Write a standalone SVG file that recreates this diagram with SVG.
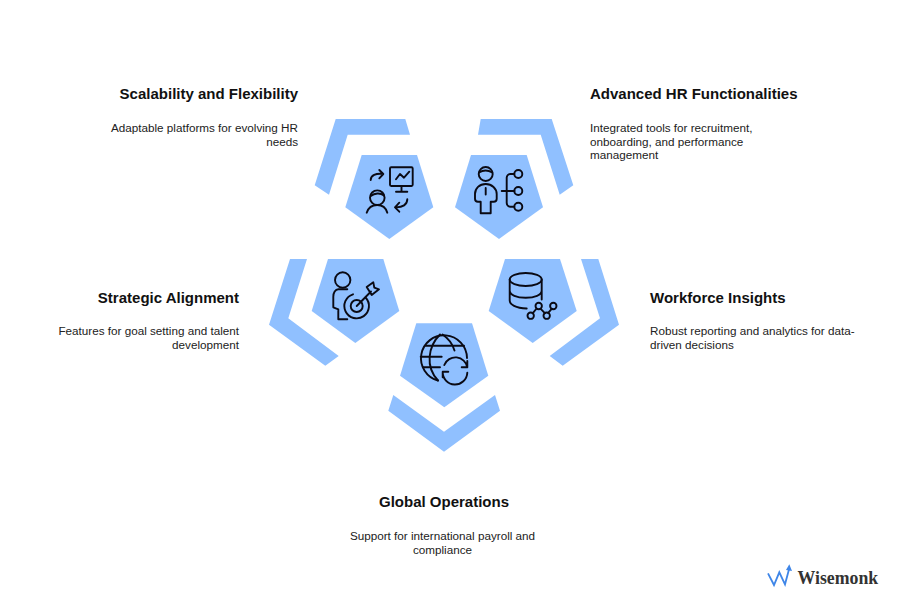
<svg xmlns="http://www.w3.org/2000/svg" width="912" height="608" viewBox="0 0 912 608">
<style>
.s{fill:#90c0ff}
.i{fill:none;stroke:#0a0a14;stroke-width:1.9;stroke-linecap:round;stroke-linejoin:round}
.t{font:bold 15px "Liberation Sans",Arial,sans-serif;fill:#111}
.d{font:11.7px "Liberation Sans",Arial,sans-serif;fill:#222}
.e{text-anchor:end}
.m{text-anchor:middle}
</style>
<rect width="912" height="608" fill="#fff"/>
<g id="node-scalability">
<polygon class="s" points="335.7,119 405.3,119 410,134.7 347.7,134.7 329,194.7 314.7,185.3"/>
<polygon class="s" points="361.7,155 417,155 433.3,207.3 389.3,239 345.3,207.3"/>
<g class="i">
<rect x="390" y="167.3" width="22.7" height="18.7" rx="1.2"/>
<path d="M401.5 186v5.700M396 191.700h11.300M396 179.300l4-5.300 4 3.700 5.300-6"/>
<path d="M370.700 180c0-4.500 5-7 12.600-6M379.300 170l4 4-4 4.300"/>
<circle cx="377.300" cy="197.700" r="7.300"/>
<path d="M370.700 196c4-3 9.500-3.500 13.300-.5M366.700 212.700c1.500-4.500 5.500-7.700 10.500-7.700s8.800 3.200 10.100 7.700"/>
<path d="M407.300 199.300c0 5-4.500 8.500-12.300 8M399.300 202.700l-4.300 4.600 4.300 4.400"/>
</g>
<text class="t e" x="298" y="98.500">Scalability and Flexibility</text>
<text class="d e" x="298" y="131.500">Adaptable platforms for evolving HR</text>
<text class="d e" x="298" y="145.500">needs</text>
</g>
<g id="node-advanced">
<polygon class="s" points="480.7,119 551.7,119 573.300,185.300 559.700,194.700 540.700,134.700 478,134.700"/>
<polygon class="s" points="471,155 526.700,155 543,207.300 499,239 455,207.300"/>
<g class="i">
<circle cx="485.700" cy="174" r="7"/>
<path d="M479 172.500c4-2.500 9-2.500 13.300 0M485.700 188v6.500"/>
<path d="M480.700 213.300V201.700H478c-1.700 0-3-1.300-3-3V194c0-5.500 4.500-10 10.700-10s11 4.500 11 10v4.700c0 1.700-1.300 3-3 3h-3V213.300Z"/>
<path d="M501.700 191h12.800M514.300 174h-4c-2 0-3.600 1.600-3.600 3.600v25.500c0 2 1.600 3.600 3.600 3.600h4"/>
<circle cx="518.300" cy="174" r="4"/><circle cx="518.300" cy="191" r="4"/><circle cx="518.300" cy="206.700" r="4"/>
</g>
<text class="t" x="590" y="98.500">Advanced HR Functionalities</text>
<text class="d" x="590" y="131.500">Integrated tools for recruitment,</text>
<text class="d" x="590" y="145.500">onboarding, and performance</text>
<text class="d" x="590" y="159.300">management</text>
</g>
<g id="node-strategic">
<polygon class="s" points="290,259 307,259 288.300,318.300 338.700,356 325.300,365.700 269,324.700"/>
<polygon class="s" points="328,259 383.300,259 399.300,311 355.300,343 311.700,311"/>
<g class="i">
<circle cx="342.700" cy="280" r="7.700"/>
<path d="M347.300 289.300h-9c-3 0-5 3.400-5 7.400v10.600l5 2v10h9"/>
<circle cx="356.700" cy="306" r="6"/>
<path d="M365.500 297.500A12.300 12.300 0 1 1 353 294.300"/>
<path d="M356.700 306l14.300-14.500"/>
<path d="M366.700 287l6.600-4.700 1 5.400 4.700 1.600-7.300 5.700Z"/>
</g>
<text class="t e" x="239" y="302.500">Strategic Alignment</text>
<text class="d e" x="239" y="335">Features for goal setting and talent</text>
<text class="d e" x="239" y="349">development</text>
</g>
<g id="node-workforce">
<polygon class="s" points="581,259 598.300,259 619,324.700 562.700,365.700 549.700,356 600,318.300"/>
<polygon class="s" points="505,259 560,259 576.700,311 532.700,343 488.700,311"/>
<g class="i">
<ellipse cx="525.700" cy="279.500" rx="16" ry="6.500"/>
<path d="M509.700 279.500v21c0 4 6 7.500 17 8M541.700 279.500v20M509.700 290.500c0 4.500 7 7.200 16 7.200s16-2.700 16-7.200"/>
<circle cx="530.700" cy="315.700" r="3.200"/><circle cx="538.700" cy="306" r="3.200"/><circle cx="546.700" cy="315.700" r="3.200"/><circle cx="553.300" cy="306" r="3.200"/>
<path d="M532.800 313.200l3.800-4.700M540.500 308.700l4.300 4.500M548.200 312.900l3.700-4.200"/>
</g>
<text class="t" x="650" y="302.500">Workforce Insights</text>
<text class="d" x="650" y="335">Robust reporting and analytics for data-</text>
<text class="d" x="650" y="349">driven decisions</text>
</g>
<g id="node-global">
<polygon class="s" points="393.300,395 444,431.700 495,395 500,410.700 444,451.700 388.300,410.700"/>
<polygon class="s" points="416.300,323.300 472,323.300 488.300,375.700 444.300,407.300 400,375.700"/>
<g class="i">
<path d="M438 380.500A23 23 0 1 1 467 358"/>
<path d="M440 334.500c-12 12-15 32-2 46M442.500 334.500c6 4 10 9 12 16M425.700 345.700h38.300M420.700 356.700h21M423 367.300h17"/>
<path d="M444.300 365A12 12 0 0 1 467.300 367.300M467.300 361v6.300h-5.600"/>
<path d="M467.300 372.700A12 12 0 0 1 442.700 371.700M442.700 377.300v-5.600h5.600"/>
</g>
<text class="t m" x="444" y="506.500">Global Operations</text>
<text class="d m" x="442.500" y="540">Support for international payroll and</text>
<text class="d m" x="442.500" y="554">compliance</text>
</g>
<g id="logo">
<path d="M768 573.300l6 11.700 5.300-12.700 5.700 12 4.300-16" fill="none" stroke="#3f86e8" stroke-width="1.800"/>
<polygon points="789.300,564.300 792,571 786,570" fill="#3f86e8"/>
<text x="797.500" y="584.300" style="font:bold 17.800px 'Liberation Serif',serif;fill:#333">Wisemonk</text>
</g>
</svg>
